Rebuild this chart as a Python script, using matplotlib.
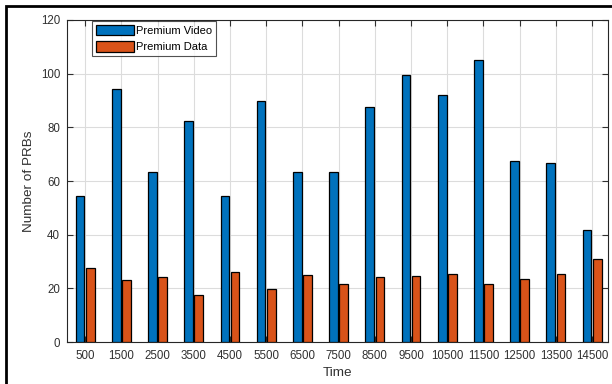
import matplotlib
matplotlib.use("Agg")
import matplotlib.pyplot as plt
import numpy as np
from matplotlib.patches import Rectangle

plt.rcParams["font.family"] = ["Liberation Sans", "DejaVu Sans"]

# ─── Data ────────────────────────────────────────────────────
time_labels = ["500", "1500", "2500", "3500", "4500", "5500", "6500", "7500",
               "8500", "9500", "10500", "11500", "12500", "13500", "14500"]
premium_video = [54.5, 94.4, 63.5, 82.5, 54.3, 89.9, 63.5, 63.2,
                 87.5, 99.6, 92.1, 105.1, 67.5, 66.8, 41.6]
premium_data = [27.7, 23.2, 24.3, 17.6, 26.1, 19.8, 25.0, 21.5,
                24.2, 24.5, 25.3, 21.5, 23.4, 25.3, 30.8]

BLUE = "#0072BD"
ORANGE = "#D95319"
TXT = "#303030"
BAR_W = 0.24
OFFSET = 0.14

fig = plt.figure(figsize=(6.12, 3.84), dpi=100)
ax = fig.add_axes([0.1095, 0.109, 0.8840, 0.839])

x = np.arange(1, len(time_labels) + 1)
ax.bar(x - OFFSET, premium_video, width=BAR_W, color=BLUE,
       edgecolor="black", linewidth=0.9, label="Premium Video", zorder=3)
ax.bar(x + OFFSET, premium_data, width=BAR_W, color=ORANGE,
       edgecolor="black", linewidth=0.9, label="Premium Data", zorder=3)

ax.set_xlim(0.5, 15.44)
ax.set_ylim(0, 120)
ax.set_xticks(x)
ax.set_xticklabels(time_labels)
ax.set_yticks(np.arange(0, 121, 20))
ax.tick_params(direction="in", top=True, right=True, length=4,
               labelsize=8.3, colors=TXT, width=0.8)
ax.tick_params(axis="x", pad=6)
ax.tick_params(axis="y", pad=5)
ax.grid(True, color="#dcdcdc", linewidth=0.8, zorder=0)
for s in ax.spines.values():
    s.set_color("#262626")
    s.set_linewidth(0.8)

ax.set_xlabel("Time", fontsize=9.7, color=TXT, labelpad=3)
ax.set_ylabel("Number of PRBs", fontsize=9.7, color=TXT, labelpad=4)

leg = ax.legend(loc="upper left", bbox_to_anchor=(0.046, 0.997), fontsize=8,
                frameon=True, fancybox=False, edgecolor="#262626",
                handlelength=3.4, handleheight=1.05, borderpad=0.35,
                labelspacing=0.5, handletextpad=0.25, borderaxespad=0.0)
leg.get_frame().set_linewidth(0.8)

# outer black frame (cut off on right and bottom in the reference)
fig.patches.append(Rectangle((5.5 / 612, -0.1), 1.2, (384 - 5.5) / 384 + 0.1,
                             transform=fig.transFigure, fill=False,
                             edgecolor="black", linewidth=2.0))

fig.savefig("out.png", dpi=100)
